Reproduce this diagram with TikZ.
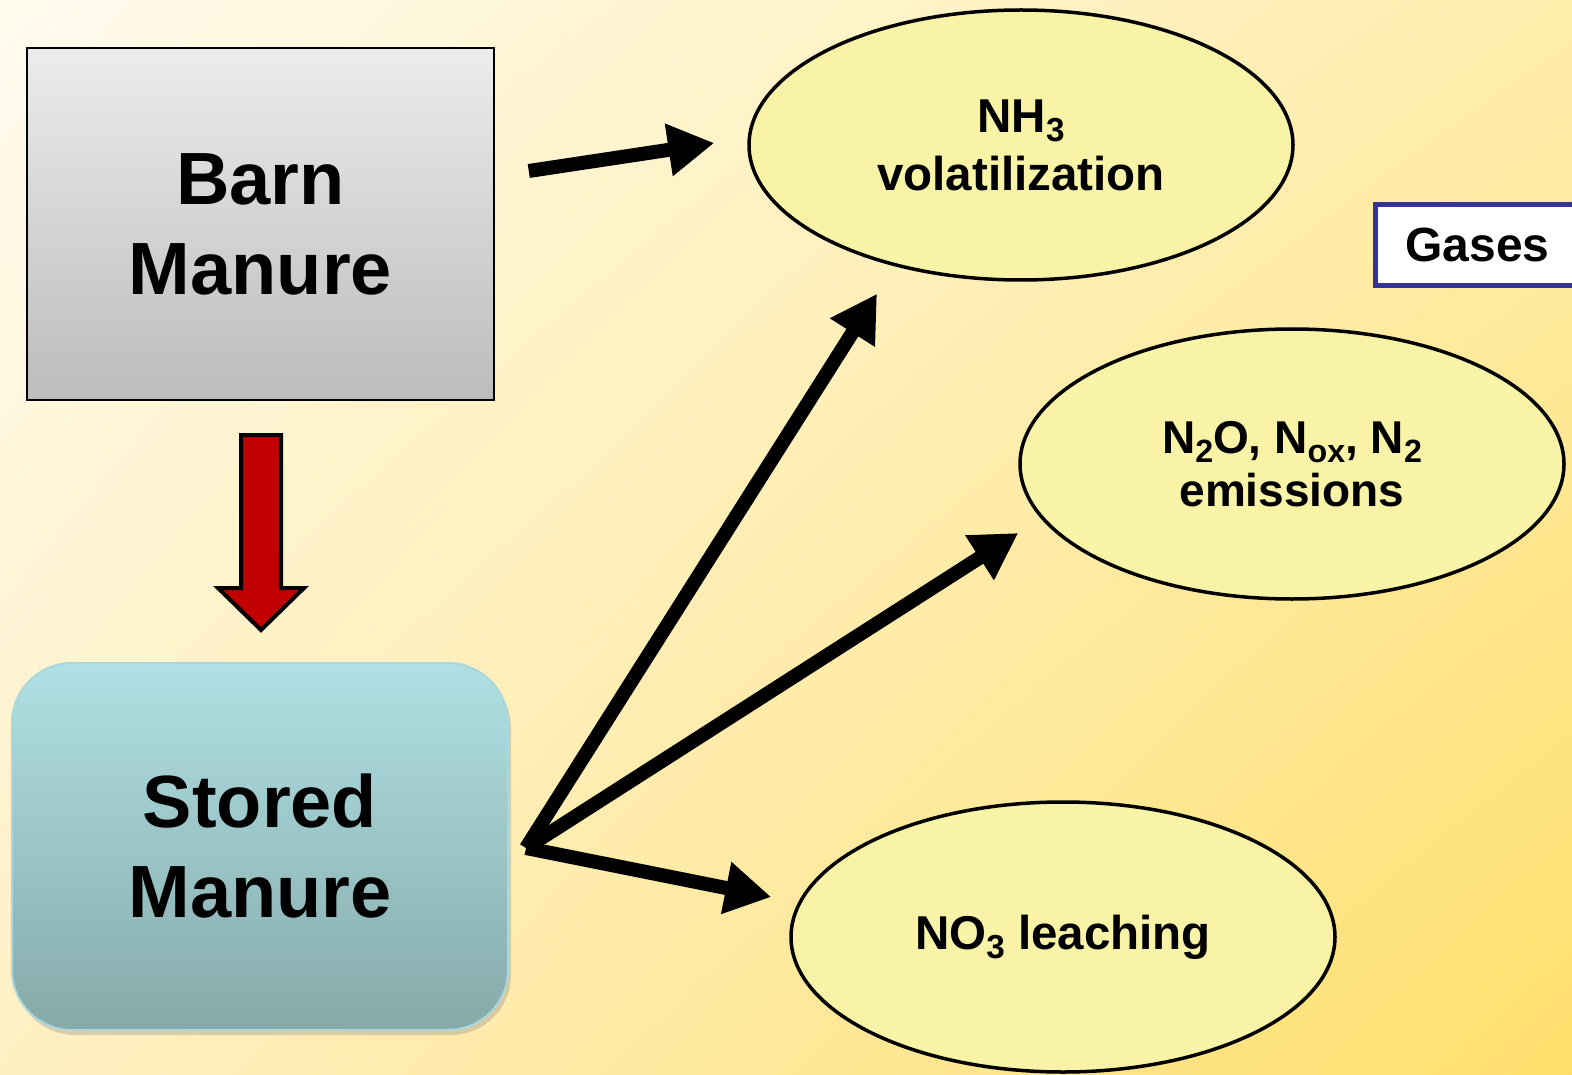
\documentclass[tikz,border=0pt]{standalone}
\usepackage{fontspec}
\setmainfont{Liberation Sans}
\usepackage{graphicx}
\usepackage{tikz}
\usetikzlibrary{arrows.meta,shapes.geometric,shadows,shadings,calc}
\definecolor{bgtl}{RGB}{255,251,238}
\definecolor{bgtr}{RGB}{255,237,172}
\definecolor{bgbl}{RGB}{255,240,196}
\definecolor{bgbr}{RGB}{255,223,108}
\definecolor{barntop}{RGB}{236,236,236}
\definecolor{barnbot}{RGB}{188,188,188}
\definecolor{storetop}{RGB}{176,224,228}
\definecolor{storebot}{RGB}{134,170,170}
\definecolor{storeline}{RGB}{170,214,220}
\definecolor{lossfill}{RGB}{248,243,166}
\definecolor{downred}{RGB}{192,0,0}
\definecolor{gasblue}{RGB}{51,51,153}
\newcommand{\boxfont}{\fontsize{74}{90}\selectfont\bfseries}
\newcommand{\lossfont}{\fontsize{47.5}{58}\selectfont\bfseries}
\newcommand{\dn}[1]{\raisebox{-0.2em}{\scalebox{0.7}{#1}}}

\begin{document}
\begin{tikzpicture}[x=1pt, y=-1pt,
    loss/.style={draw, line width=3.5pt, ellipse, fill=lossfill, minimum width=544pt, minimum height=270pt, inner sep=0pt, align=center},
    fat/.style={line width=14pt, -{Triangle[length=46pt, width=50pt]}}]
    % Background
    \path[use as bounding box, clip] (0, 0) rectangle (1572, 1075);
    \shade[upper left=bgtl, upper right=bgtr, lower left=bgbl, lower right=bgbr] (0, 0) rectangle (1572, 1075);

    % Manure boxes
    \node[draw, line width=1.5pt, top color=barntop, bottom color=barnbot, minimum width=467pt, minimum height=352pt, align=center, font=\boxfont] (barn) at (260.5, 224) {Barn\\Manure};
    \node[draw=storeline, line width=2pt, rounded corners=60pt, top color=storetop, bottom color=storebot, drop shadow={opacity=0.3, shadow xshift=3pt, shadow yshift=-5pt}, minimum width=496pt, minimum height=367pt, align=center, font=\boxfont] (stored) at (260, 846.5) {Stored\\Manure};
    \draw[line width=4pt, fill=downred, line join=miter] (241, 435) -- (281, 435) -- (281, 588) -- (304, 588) -- (261, 630) -- (218, 588) -- (241, 588) -- cycle;

    % Losses
    \node[loss, font=\lossfont] (nh3) at (1021, 145) {NH\dn{3}\\volatilization};
    \node[loss, font=\fontsize{46}{53}\selectfont\bfseries] (nox) at (1292, 464) {N\dn{2}O, N\dn{ox}, N\dn{2}\\emissions};
    \node[loss, font=\lossfont] (no3) at (1063, 937) {NO\dn{3} leaching};
    \node[draw=gasblue, line width=5pt, fill=white, anchor=west, minimum width=204pt, minimum height=81pt, font=\fontsize{48}{58}\selectfont\bfseries] (gases) at (1373, 245) {Gases};

    % Arrows
    \coordinate (barnout) at ($(barn.east)+(34, -53)$);
    \coordinate (hub) at ($(stored.east)+(17, 1.5)$);
    \coordinate (tipnh3) at ($(nh3.west)+(-33, -2)$);
    \coordinate (tipup) at ($(nh3.south)+(-144, 12)$);
    \coordinate (tipnox) at ($(nox.west)+(0, 69)$);
    \coordinate (tipno3) at ($(no3.west)+(-18, -40)$);
    \draw[fat] (barnout) -- (tipnh3);
    \draw[fat] (hub) -- (tipup);
    \draw[fat] (hub) -- (tipnox);
    \draw[fat] (hub) -- (tipno3);

\end{tikzpicture}
\end{document}
